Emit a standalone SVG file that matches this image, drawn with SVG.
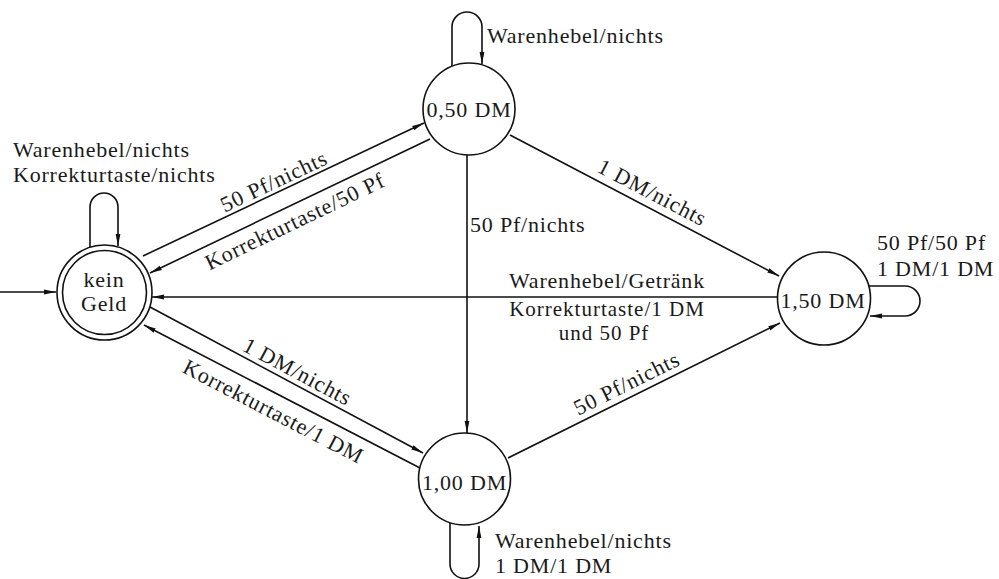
<svg xmlns="http://www.w3.org/2000/svg" width="999" height="579" viewBox="0 0 999 579">
  <defs>
    <marker id="arrow" viewBox="0 0 12 6" refX="12" refY="3" markerWidth="12" markerHeight="6" markerUnits="userSpaceOnUse" orient="auto">
      <path d="M0,0.6 L12,3 L0,5.4 Z" fill="#111"/>
    </marker>
  </defs>
  <style>
    .state { fill: #fff; stroke: #111; stroke-width: 1.6; }
    .edge { fill: none; stroke: #111; stroke-width: 1.6; marker-end: url(#arrow); }
    text { font-family: "Liberation Serif", "Times New Roman", serif; font-size: 22px; fill: #1a1a1a; letter-spacing: 0.8px; }
    .mid { text-anchor: middle; }
    .tight { font-size: 21px; letter-spacing: 1px; }
  </style>
  <rect width="999" height="579" fill="#fff"/>

  <!-- transitions -->
  <g id="connectors">
    <!-- start arrow -->
    <path class="edge" d="M0,292 L56,292"/>
    <!-- kein Geld self loop -->
    <path class="edge" d="M90,249 L90,207 A14,14 0 0 1 118,207 L118,246"/>
    <!-- kein Geld -> 0,50 DM -->
    <path class="edge" d="M143,256 L424,123"/>
    <!-- 0,50 DM -> kein Geld -->
    <path class="edge" d="M430,139 L150,273"/>
    <!-- kein Geld -> 1,00 DM -->
    <path class="edge" d="M150,307 L423,453"/>
    <!-- 1,00 DM -> kein Geld -->
    <path class="edge" d="M420,468 L144,325"/>
    <!-- 0,50 DM self loop -->
    <path class="edge" d="M452,67 L452,27 A15,15 0 0 1 482,27 L482,64"/>
    <!-- 0,50 DM -> 1,00 DM -->
    <path class="edge" d="M467,155 L467,433"/>
    <!-- 0,50 DM -> 1,50 DM -->
    <path class="edge" d="M510,135 L779,276"/>
    <!-- 1,50 DM -> kein Geld -->
    <path class="edge" d="M778,297 L152,297"/>
    <!-- 1,00 DM -> 1,50 DM -->
    <path class="edge" d="M508,458 L780,323"/>
    <!-- 1,50 DM self loop -->
    <path class="edge" d="M869,286 L905,286 A15,15 0 0 1 905,316 L870,316"/>
    <!-- 1,00 DM self loop -->
    <path class="edge" d="M450,522 L450,564 A14.5,14.5 0 0 0 479,564 L479,526"/>
  </g>

  <!-- transition labels -->
  <g id="labels">
    <text x="13" y="157">Warenhebel/nichts</text>
    <text x="13" y="182">Korrekturtaste/nichts</text>
    <text x="487" y="43">Warenhebel/nichts</text>
    <text class="mid" transform="translate(277,188) rotate(-25.3)">50 Pf/nichts</text>
    <text class="mid" transform="translate(298,228) rotate(-25.6)">Korrekturtaste/50 Pf</text>
    <text class="mid" transform="translate(294,378) rotate(28.1)">1 DM/nichts</text>
    <text class="mid" transform="translate(270,418) rotate(27.5)">Korrekturtaste/1 DM</text>
    <text x="470" y="232">50 Pf/nichts</text>
    <text class="mid" transform="translate(649,199) rotate(27.6)">1 DM/nichts</text>
    <text class="mid" x="607" y="288">Warenhebel/Getränk</text>
    <text class="mid tight" x="607" y="316">Korrekturtaste/1 DM</text>
    <text class="mid tight" x="604" y="340">und 50 Pf</text>
    <text class="mid" transform="translate(630,390) rotate(-26.4)">50 Pf/nichts</text>
    <text x="877" y="250">50 Pf/50 Pf</text>
    <text x="877" y="276">1 DM/1 DM</text>
    <text x="495" y="548">Warenhebel/nichts</text>
    <text x="495" y="573">1 DM/1 DM</text>
  </g>

  <!-- states -->
  <g id="kein-geld">
    <circle class="state" cx="104.5" cy="292.5" r="47.5"/>
    <circle class="state" cx="104.5" cy="292.5" r="42"/>
    <text class="mid" x="104" y="287">kein</text>
    <text class="mid" x="104" y="311">Geld</text>
  </g>
  <g id="dm-050">
    <circle class="state" cx="469" cy="109" r="46"/>
    <text class="mid" x="469" y="117">0,50 DM</text>
  </g>
  <g id="dm-100">
    <circle class="state" cx="464.5" cy="479" r="46"/>
    <text class="mid" x="464.5" y="490">1,00 DM</text>
  </g>
  <g id="dm-150">
    <circle class="state" cx="824" cy="298.5" r="46.5"/>
    <text class="mid" x="823" y="308">1,50 DM</text>
  </g>
</svg>
